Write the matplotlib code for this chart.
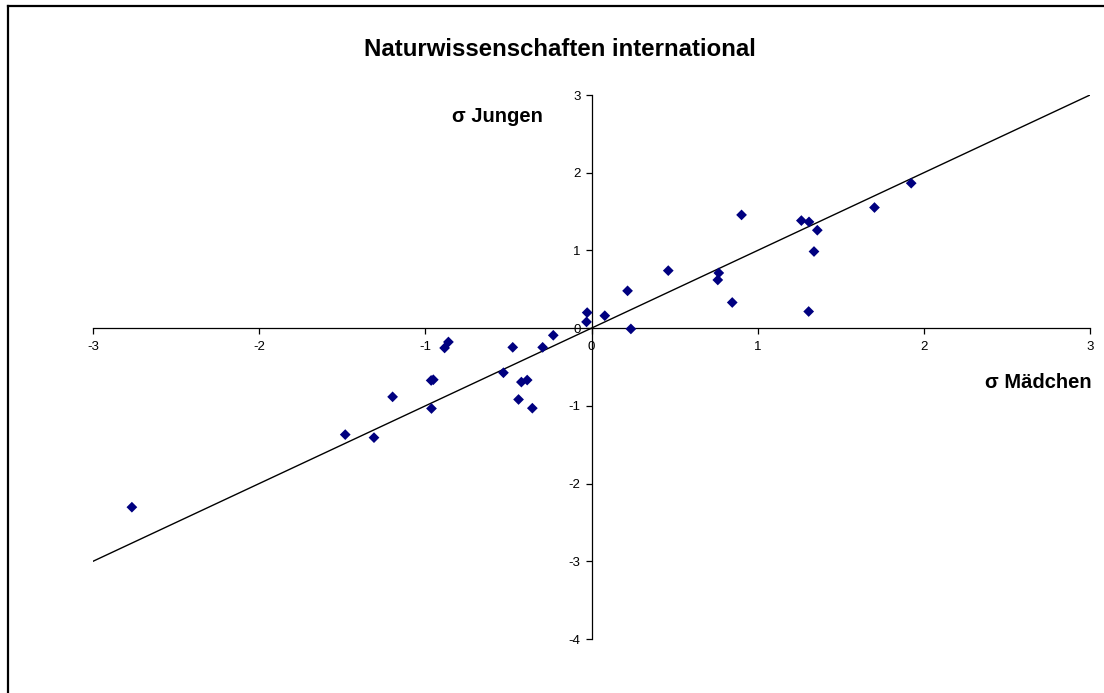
import matplotlib
matplotlib.use("Agg")
import matplotlib.pyplot as plt
from matplotlib.lines import Line2D

plt.rcParams['font.family'] = ['Liberation Sans', 'DejaVu Sans']

# standardised scores: girls (x) vs boys (y)
maedchen = [-0.026, -0.03, 0.08, 0.237, 0.217, 0.462, 0.766, 0.760, 0.847,
            0.903, 1.263, 1.309, 1.359, 1.339, 1.307, 1.703, 1.924,
            -0.230, -0.294, -0.474, -0.861, -0.884, -0.530, -0.387, -0.422,
            -0.439, -0.356, -0.952, -0.965, -0.963, -1.197, -1.482, -1.309,
            -2.766]
jungen = [0.20, 0.08, 0.16, -0.01, 0.48, 0.74, 0.71, 0.62, 0.33,
          1.457, 1.384, 1.367, 1.26, 0.986, 0.214, 1.552, 1.865,
          -0.092, -0.247, -0.247, -0.178, -0.255, -0.574, -0.668, -0.694,
          -0.918, -1.03, -0.664, -0.673, -1.034, -0.884, -1.370, -1.409,
          -2.304]
ref_line = [-3, 3]
xticks = [-3, -2, -1, 0, 1, 2, 3]
yticks = [-4, -3, -2, -1, 0, 1, 2, 3]

W, H = 1104, 693
fig = plt.figure(figsize=(W / 100, H / 100), dpi=100)
ax = fig.add_axes([93 / W, (H - 639) / H, (1090 - 93) / W, (639 - 95) / H])

ax.plot(ref_line, ref_line, color='black', lw=1.0, zorder=2)
ax.scatter(maedchen, jungen, marker='D', s=30, color='#000080',
           edgecolors='none', zorder=3)

ax.set_xlim(-3, 3)
ax.set_ylim(-4, 3)
for side in ('top', 'right'):
    ax.spines[side].set_visible(False)
ax.spines['left'].set_position(('data', 0))
ax.spines['bottom'].set_position(('data', 0))
ax.spines['left'].set_linewidth(0.9)
ax.spines['bottom'].set_linewidth(0.9)

ax.set_xticks(xticks)
ax.set_yticks(yticks)
ax.set_xticklabels([str(t) for t in xticks])
ax.set_yticklabels([str(t) for t in yticks])
ax.tick_params(axis='x', direction='out', length=4, width=0.9, labelsize=9.5, pad=5)
ax.tick_params(axis='y', direction='out', length=4, width=0.9, labelsize=9.5, pad=4)

fig.text(560 / W, 1 - 49 / H, 'Naturwissenschaften international',
         ha='center', va='center', fontsize=17.3, fontweight='bold')
ax.text(543 / W, 1 - 117 / H, 'σ Jungen', transform=fig.transFigure,
        ha='right', va='center', fontsize=14.5, fontweight='bold')
ax.text(1092 / W, 1 - 383 / H, 'σ Mädchen', transform=fig.transFigure,
        ha='right', va='center', fontsize=14.5, fontweight='bold')

# frame along the top and left edge of the chart area
fig.add_artist(Line2D([7.5 / W, 7.5 / W], [0, 1 - 6 / H], transform=fig.transFigure,
                      color='black', lw=1.6))
fig.add_artist(Line2D([7.5 / W, 1], [1 - 6 / H, 1 - 6 / H], transform=fig.transFigure,
                      color='black', lw=1.6))

fig.savefig('out.png', dpi=100, facecolor='white')
